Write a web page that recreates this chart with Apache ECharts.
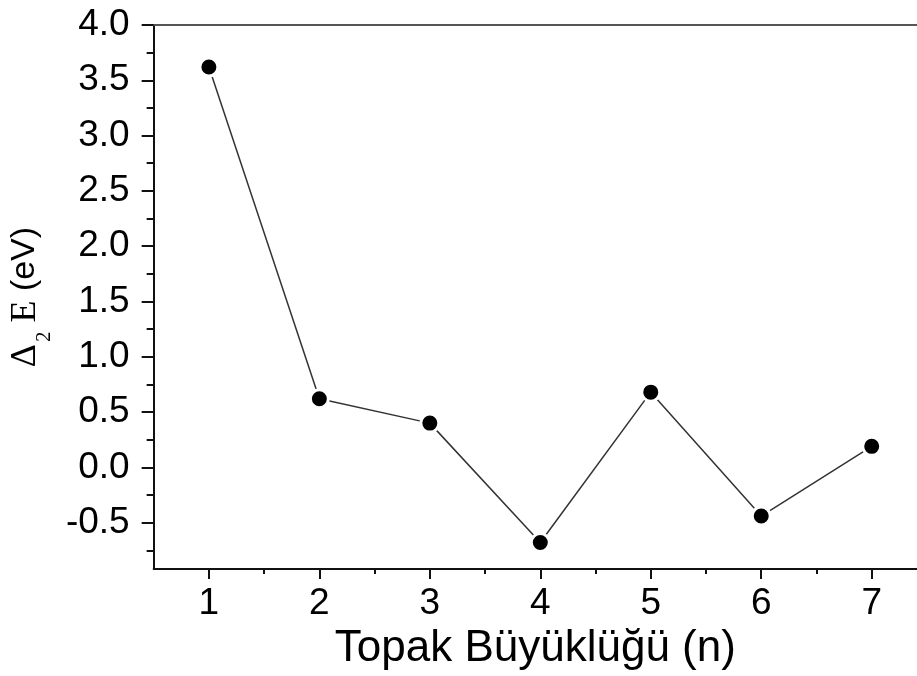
<!DOCTYPE html>
<html>
<head>
<meta charset="utf-8">
<script src="https://cdn.jsdelivr.net/npm/echarts@6/dist/echarts.min.js"></script>
<style>
html,body{margin:0;padding:0;background:#fff;}
#chart{width:917px;height:676px;}
</style>
</head>
<body>
<div id="chart"></div>
<script>
// Data
var clusterSize = [1, 2, 3, 4, 5, 6, 7];
var delta2E = [3.62, 0.62, 0.40, -0.68, 0.68, -0.44, 0.19];
var yTickLabels = [-0.5, 0.0, 0.5, 1.0, 1.5, 2.0, 2.5, 3.0, 3.5, 4.0];
var yMinorTicks = [-0.75, -0.25, 0.25, 0.75, 1.25, 1.75, 2.25, 2.75, 3.25, 3.75];
var xTickLabels = [1, 2, 3, 4, 5, 6, 7];
var xMinorTicks = [1.5, 2.5, 3.5, 4.5, 5.5, 6.5];
var xTitle = 'Topak Büyüklüğü (n)';

var seriesData = clusterSize.map(function (x, i) { return [x, delta2E[i]]; });

var SANS = 'Arial, "Liberation Sans", Helvetica, sans-serif';
var SERIF = '"Times New Roman", "Liberation Serif", serif';
var XMIN = 0.5, XMAX = 7.41, YMIN = -0.92, YMAX = 4.0;

var chart = echarts.init(document.getElementById('chart'), null, {renderer: 'canvas'});
var option = {
  animation: false,
  backgroundColor: '#fff',
  grid: {left: 153, top: 25, right: 0, bottom: 106, containLabel: false},
  xAxis: [
    {
      type: 'value', min: XMIN, max: XMAX, position: 'bottom',
      name: xTitle, nameLocation: 'middle', nameGap: 51,
      nameTextStyle: {fontFamily: SANS, fontSize: 44, color: '#000'},
      axisLine: {show: true, onZero: false, lineStyle: {color: '#111', width: 2}},
      axisTick: {show: true, inside: false, length: 10, customValues: xTickLabels, lineStyle: {color: '#111', width: 2}},
      axisLabel: {show: true, customValues: xTickLabels, margin: 16, fontFamily: SANS, fontSize: 37, color: '#000',
        formatter: function (v) { return String(v); }},
      splitLine: {show: false}
    },
    {
      type: 'value', min: XMIN, max: XMAX, position: 'bottom',
      axisLine: {show: false, onZero: false},
      axisTick: {show: true, inside: false, length: 5, customValues: xMinorTicks, lineStyle: {color: '#111', width: 2}},
      axisLabel: {show: false},
      splitLine: {show: false}
    },
    {
      type: 'value', min: XMIN, max: XMAX, position: 'top',
      axisLine: {show: true, onZero: false, lineStyle: {color: '#555', width: 2}},
      axisTick: {show: false},
      axisLabel: {show: false},
      splitLine: {show: false}
    }
  ],
  yAxis: [
    {
      type: 'value', min: YMIN, max: YMAX, position: 'left',
      name: '{d|Δ}{s|2}{e| E}{a| (eV)}',
      nameLocation: 'middle', nameRotate: 90, nameGap: 92,
      nameTextStyle: {
        color: '#000',
        rich: {
          d: {fontFamily: SERIF, fontSize: 36, lineHeight: 36, verticalAlign: 'top', color: '#000'},
          s: {fontFamily: SERIF, fontSize: 21, lineHeight: 21, padding: [26, 0, 0, 2], verticalAlign: 'top', color: '#000'},
          e: {fontFamily: SERIF, fontSize: 36, lineHeight: 36, verticalAlign: 'top', color: '#000'},
          a: {fontFamily: SANS, fontSize: 34, lineHeight: 36, verticalAlign: 'top', color: '#000'}
        }
      },
      axisLine: {show: true, onZero: false, lineStyle: {color: '#111', width: 2}},
      axisTick: {show: true, inside: false, length: 12, customValues: yTickLabels, lineStyle: {color: '#111', width: 2}},
      axisLabel: {show: true, customValues: yTickLabels, margin: 24, fontFamily: SANS, fontSize: 37, color: '#000',
        formatter: function (v) { return v.toFixed(1); }},
      splitLine: {show: false}
    },
    {
      type: 'value', min: YMIN, max: YMAX, position: 'left',
      axisLine: {show: false, onZero: false},
      axisTick: {show: true, inside: false, length: 7, customValues: yMinorTicks, lineStyle: {color: '#111', width: 2}},
      axisLabel: {show: false},
      splitLine: {show: false}
    }
  ],
  series: [
    {
      type: 'line',
      xAxisIndex: 0, yAxisIndex: 0,
      data: seriesData,
      symbol: 'circle',
      symbolSize: 18,
      itemStyle: {color: '#000', borderColor: '#fff', borderWidth: 3},
      lineStyle: {color: '#333', width: 1.5},
      z: 3
    }
  ]
};
chart.setOption(option);
</script>
</body>
</html>
